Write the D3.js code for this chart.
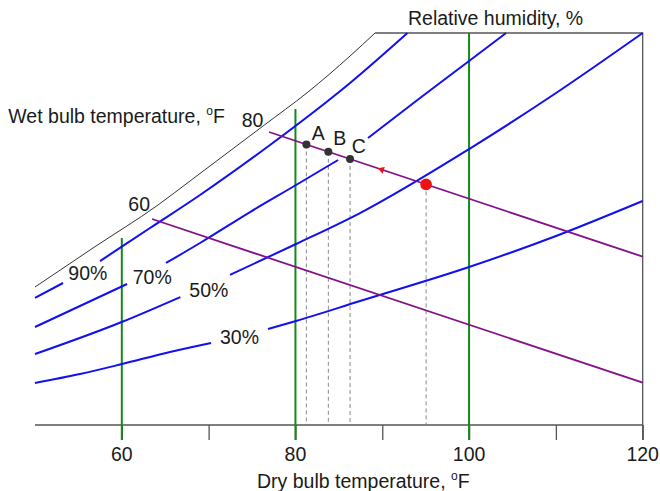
<!DOCTYPE html>
<html>
<head>
<meta charset="utf-8">
<script src="https://cdn.jsdelivr.net/npm/d3@7"></script>
<style>
  body { margin: 0; background: #fff; }
  text { font-family: "Liberation Sans", Arial, sans-serif; fill: #1a1a1a; }
</style>
</head>
<body>
<div id="chart"></div>
<script>
// dry bulb temperature (F) vs moisture ordinate (unitless, 0..40)
var saturation = [[50, 14.08], [56.68, 18.06], [64.17, 22.45], [67.86, 24.9], [76.27, 30.51],
                  [81.45, 33.98], [86.29, 37.65], [89.17, 40]];

// relative humidity curves; null marks the break left for the label
var rh90 = [[50, 12.96], [53.23, 14.49], null, [57.49, 16.73], [63.25, 20.1], [69.01, 23.47],
            [77.07, 28.57], [86.29, 34.9], [92.9, 40]];
var rh70 = [[50, 10], [55.18, 12.14], [60.6, 14.39], null, [65.09, 16.53], [69.01, 18.57],
            [74.77, 21.73], [80.07, 24.49], [84.91, 27.04], null, [88.36, 29.29], [94.35, 33.37],
            [100, 37.14], [104.26, 40]];
var rh50 = [[50, 7.24], [59.99, 10.51], [66.74, 13.06], null, [72.46, 15.31], [80.07, 18.47],
            [87.44, 21.63], [100, 28.16], [110.02, 33.88], [120, 40]];
var rh30 = [[50, 4.29], [55.18, 5.2], [60.02, 6.22], [65.55, 7.45], [70.28, 8.37], null,
            [76.84, 9.8], [80.07, 10.61], [87.44, 12.65], [100, 16.12], [110.02, 19.29], [120, 22.86]];
var rhNames = ["90%", "70%", "50%", "30%"];

// wet bulb lines
var wb80 = [[76.96, 29.9], [120, 17.18]];
var wb60 = [[63.48, 21.02], [120, 4.32]];

// dry bulb verticals: temperature and top of line
var dryBulb = [[60, 19.08], [80, 32.24], [100, 40]];

// states on the 80F wet bulb line
var states = [{name: "A", t: 81.26, w: 28.63}, {name: "B", t: 83.79, w: 27.88}, {name: "C", t: 86.29, w: 27.14}];
var start = {t: 95.05, w: 24.55};
var arrowAt = {t: 89.94, w: 26.06};

var xTicks = [60, 70, 80, 90, 100, 110, 120];
var xLabels = [60, 80, 100, 120];

var width = 660, height = 491;
var x = d3.scaleLinear().domain([50, 120]).range([35, 642.7]);
var y = d3.scaleLinear().domain([0, 40]).range([425, 33]);
var tickLen = 15;

var svg = d3.select("#chart").append("svg")
    .attr("width", width)
    .attr("height", height);

var line = d3.line()
    .defined(function(d) { return d !== null; })
    .x(function(d) { return x(d[0]); })
    .y(function(d) { return y(d[1]); })
    .curve(d3.curveMonotoneX);

// frame: axis, top edge, right edge
var axis = svg.append("g")
    .attr("transform", "translate(0," + y(0) + ")")
    .call(d3.axisBottom(x).tickValues(xTicks).tickSize(tickLen).tickFormat(""));
axis.select(".domain").attr("stroke", "#555").attr("stroke-width", 1.3)
    .attr("d", "M" + x(50) + ",0H" + x(120));
axis.selectAll(".tick line").attr("stroke", "#555").attr("stroke-width", 1.3);

svg.append("path")
    .attr("d", "M" + x(saturation[saturation.length - 1][0]) + "," + y(40) + "H" + x(120) + "V" + (y(0) + tickLen))
    .attr("fill", "none").attr("stroke", "#555").attr("stroke-width", 1.3);

svg.selectAll(".xlab").data(xLabels).enter().append("text")
    .attr("class", "xlab")
    .attr("x", function(d) { return x(d); })
    .attr("y", 461)
    .attr("text-anchor", "middle")
    .style("font-size", "19.5px")
    .text(function(d) { return d; });

// saturation curve
svg.append("path").datum(saturation)
    .attr("d", line)
    .attr("fill", "none").attr("stroke", "#333").attr("stroke-width", 1);

// dashed drop lines
var drops = states.concat([start]);
svg.selectAll(".drop").data(drops).enter().append("line")
    .attr("class", "drop")
    .attr("x1", function(d) { return x(d.t); })
    .attr("x2", function(d) { return x(d.t); })
    .attr("y1", function(d) { return y(d.w); })
    .attr("y2", y(0))
    .attr("stroke", "#888").attr("stroke-width", 1)
    .attr("stroke-dasharray", "4,3");

// dry bulb lines
svg.selectAll(".dry").data(dryBulb).enter().append("line")
    .attr("class", "dry")
    .attr("x1", function(d) { return x(d[0]); })
    .attr("x2", function(d) { return x(d[0]); })
    .attr("y1", function(d) { return y(d[1]); })
    .attr("y2", y(0) + tickLen)
    .attr("stroke", "#14881a").attr("stroke-width", 2);

// relative humidity curves
svg.selectAll(".rh").data([rh90, rh70, rh50, rh30]).enter().append("path")
    .attr("class", "rh")
    .attr("d", line)
    .attr("fill", "none").attr("stroke", "#1010f0").attr("stroke-width", 2);

// wet bulb lines
svg.selectAll(".wb").data([wb80, wb60]).enter().append("path")
    .attr("class", "wb")
    .attr("d", line)
    .attr("fill", "none").attr("stroke", "#84108a").attr("stroke-width", 1.8);

// direction arrow
var angle = Math.atan2(y(wb80[1][1]) - y(wb80[0][1]), x(wb80[1][0]) - x(wb80[0][0])) * 180 / Math.PI;
svg.append("path")
    .attr("d", d3.symbol().type(d3.symbolTriangle).size(22)())
    .attr("transform", "translate(" + x(arrowAt.t) + "," + y(arrowAt.w) + ") rotate(" + (angle - 90) + ")")
    .attr("fill", "#e8141c");

// states
svg.selectAll(".state").data(states).enter().append("circle")
    .attr("class", "state")
    .attr("cx", function(d) { return x(d.t); })
    .attr("cy", function(d) { return y(d.w); })
    .attr("r", 4)
    .attr("fill", "#333");

svg.append("circle")
    .attr("cx", x(start.t)).attr("cy", y(start.w))
    .attr("r", 5.8).attr("fill", "#ee1111");

// labels
var labelPos = [[68.3, 280], [132.7, 284.3], [189.3, 297], [220, 344]];
svg.selectAll(".rhlab").data(rhNames).enter().append("text")
    .attr("class", "rhlab")
    .attr("x", function(d, i) { return labelPos[i][0]; })
    .attr("y", function(d, i) { return labelPos[i][1]; })
    .style("font-size", "19.5px")
    .text(function(d) { return d; });

var statePos = [[311.7, 140], [333.3, 145], [351.7, 153.3]];
svg.selectAll(".slab").data(states).enter().append("text")
    .attr("class", "slab")
    .attr("x", function(d, i) { return statePos[i][0]; })
    .attr("y", function(d, i) { return statePos[i][1]; })
    .style("font-size", "19.5px")
    .text(function(d) { return d.name; });

svg.append("text").attr("x", 241.7).attr("y", 127).style("font-size", "19.5px").text("80");
svg.append("text").attr("x", 128.3).attr("y", 211).style("font-size", "19.5px").text("60");

svg.append("text").attr("x", 408).attr("y", 25).style("font-size", "19.5px").text("Relative humidity, %");

function degLabel(xp, yp, txt) {
  var t = svg.append("text").attr("x", xp).attr("y", yp).style("font-size", "19.5px");
  t.append("tspan").text(txt);
  t.append("tspan").attr("dy", -8).style("font-size", "12px").text("o");
  t.append("tspan").attr("dy", 8).text("F");
}
degLabel(8.3, 123, "Wet bulb temperature, ");
degLabel(257, 488, "Dry bulb temperature, ");
</script>
</body>
</html>
